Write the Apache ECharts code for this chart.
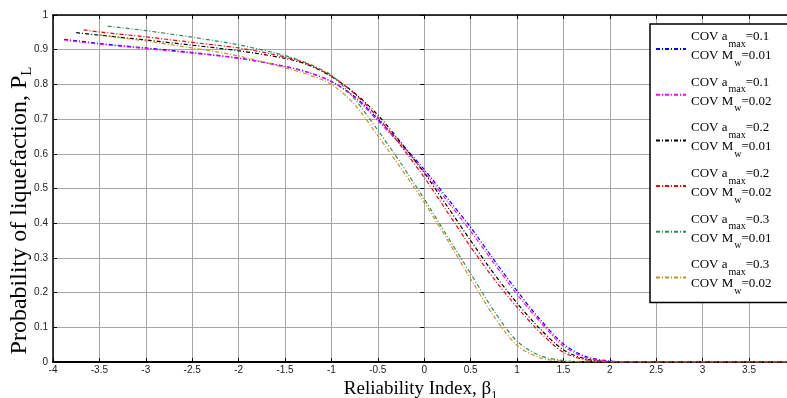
<!DOCTYPE html>
<html>
<head>
<meta charset="utf-8">
<script src="https://cdn.jsdelivr.net/npm/echarts@6/dist/echarts.min.js"></script>
<style>
html,body{margin:0;padding:0;background:#fff;}
#chart{width:787px;height:398px;}
</style>
</head>
<body>
<div id="chart"></div>
<script>
// ---- data ----
const xBlue = [-3.88, -3.5, -3, -2.5, -2, -1.5, -1.25, -1, -0.75, -0.5, -0.25, 0, 0.25, 0.5, 0.75, 1, 1.25, 1.5, 1.75, 2, 2.25, 3.92];
const yBlue = [0.930, 0.918, 0.905, 0.892, 0.876, 0.852, 0.835, 0.808, 0.765, 0.700, 0.630, 0.555, 0.472, 0.388, 0.295, 0.205, 0.122, 0.052, 0.015, 0.003, 0, 0];

const xMagenta = [-3.88, -3.5, -3, -2.5, -2, -1.5, -1.25, -1, -0.75, -0.5, -0.25, 0, 0.25, 0.5, 0.75, 1, 1.25, 1.5, 1.75, 2, 2.25, 3.92];
const yMagenta = [0.928, 0.916, 0.903, 0.890, 0.875, 0.851, 0.834, 0.808, 0.762, 0.695, 0.625, 0.548, 0.463, 0.377, 0.285, 0.195, 0.115, 0.046, 0.012, 0.002, 0, 0];

const xBlack = [-3.75, -3.5, -3, -2.5, -2, -1.5, -1.25, -1, -0.75, -0.5, -0.25, 0, 0.25, 0.5, 0.75, 1, 1.25, 1.5, 1.75, 2, 2.25, 3.92];
const yBlack = [0.949, 0.942, 0.928, 0.913, 0.897, 0.875, 0.856, 0.823, 0.775, 0.712, 0.632, 0.545, 0.448, 0.350, 0.255, 0.170, 0.095, 0.035, 0.008, 0.001, 0, 0];

const xRed = [-3.67, -3.5, -3, -2.5, -2, -1.5, -1.25, -1, -0.75, -0.5, -0.25, 0, 0.25, 0.5, 0.75, 1, 1.25, 1.5, 1.75, 2, 2.25, 3.92];
const yRed = [0.957, 0.951, 0.937, 0.921, 0.905, 0.879, 0.858, 0.824, 0.773, 0.705, 0.622, 0.532, 0.432, 0.332, 0.240, 0.158, 0.085, 0.028, 0.006, 0.001, 0, 0];

const xGreen = [-3.41, -3, -2.5, -2, -1.5, -1.25, -1, -0.75, -0.5, -0.25, 0, 0.25, 0.5, 0.75, 1, 1.25, 1.5, 1.75, 3.92];
const yGreen = [0.968, 0.955, 0.936, 0.914, 0.883, 0.860, 0.826, 0.758, 0.668, 0.572, 0.470, 0.362, 0.255, 0.148, 0.060, 0.018, 0.004, 0, 0];

const xOrange = [-3.5, -3, -2.5, -2, -1.5, -1.25, -1, -0.75, -0.5, -0.25, 0, 0.25, 0.5, 0.75, 1, 1.25, 1.5, 1.75, 3.92];
const yOrange = [0.942, 0.925, 0.905, 0.882, 0.848, 0.828, 0.800, 0.742, 0.652, 0.558, 0.460, 0.352, 0.240, 0.132, 0.048, 0.012, 0.002, 0, 0];

const legendA = ['0.1', '0.1', '0.2', '0.2', '0.3', '0.3'];
const legendM = ['0.01', '0.02', '0.01', '0.02', '0.01', '0.02'];
const seriesColors = ['#0000ff', '#ff00ff', '#000000', '#ff0000', '#2e8b57', '#c8921e'];
const xs = [xBlue, xMagenta, xBlack, xRed, xGreen, xOrange];
const ys = [yBlue, yMagenta, yBlack, yRed, yGreen, yOrange];

const xTickMin = -4, xTickMax = 3.92, xInterval = 0.5;
const yTickMin = 0, yTickMax = 1, yInterval = 0.1;

// ---- chart ----
const chart = echarts.init(document.getElementById('chart'), null, {renderer: 'canvas'});
const serif = '"Liberation Serif", "Times New Roman", serif';
const sans = '"Liberation Sans", Arial, sans-serif';

const names = legendA.map((a, i) => 'S' + i);
const series = names.map((n, i) => ({
  name: n,
  type: 'line',
  xAxisIndex: 0, yAxisIndex: 0,
  showSymbol: false, symbol: 'none',
  smooth: 0.3,
  data: xs[i].map((x, k) => [x, ys[i][k]]),
  lineStyle: {color: seriesColors[i], width: 1.2, type: [4, 2, 1, 2]},
  itemStyle: {color: seriesColors[i]},
  z: 3,
}));

const option = {
  animation: false,
  backgroundColor: '#fff',
  grid: {left: 53, top: 15, right: -1, bottom: 36, containLabel: false, outerBoundsMode: 'none'},
  xAxis: [{
    type: 'value', min: xTickMin, max: xTickMax, interval: xInterval,
    position: 'bottom',
    axisLine: {onZero: false, lineStyle: {color: '#000', width: 2}},
    axisTick: {inside: true, length: 4, lineStyle: {color: '#000'}},
    axisLabel: {fontFamily: sans, fontSize: 10, color: '#222', margin: 3, showMaxLabel: false,
      formatter: v => String(v)},
    splitLine: {show: true, lineStyle: {color: '#a6a6a6', width: 1}},
    name: '{t|Reliability Index, \u03b2}{s|1}',
    nameLocation: 'middle', nameGap: 16,
    nameTextStyle: {
      color: '#000',
      rich: {
        t: {fontFamily: serif, fontSize: 19, lineHeight: 19, verticalAlign: 'top', color: '#000'},
        s: {fontFamily: serif, fontSize: 12, lineHeight: 12, padding: [10, 0, 0, 0], verticalAlign: 'top', color: '#000'}
      }
    }
  }, {
    type: 'value', min: xTickMin, max: xTickMax, interval: xInterval,
    position: 'top',
    axisLine: {onZero: false, lineStyle: {color: '#000', width: 1.5}},
    axisTick: {inside: true, length: 4, lineStyle: {color: '#000'}},
    axisLabel: {show: false},
    splitLine: {show: false}
  }],
  yAxis: [{
    type: 'value', min: yTickMin, max: yTickMax, interval: yInterval,
    position: 'left',
    axisLine: {show: true, onZero: false, lineStyle: {color: '#000', width: 1.5}},
    axisTick: {show: true, inside: true, length: 4, lineStyle: {color: '#000'}},
    axisLabel: {fontFamily: sans, fontSize: 10, color: '#222', margin: 5,
      formatter: v => String(Math.round(v * 10) / 10)},
    splitLine: {show: true, lineStyle: {color: '#a6a6a6', width: 1}},
    name: '{t|Probability of liquefaction, P}{s|L}',
    nameLocation: 'middle', nameGap: 21, nameMoveOverlap: false,
    nameTextStyle: {
      color: '#000',
      padding: [0, 44, 0, 0],
      rich: {
        t: {fontFamily: serif, fontSize: 24, lineHeight: 24, verticalAlign: 'top', color: '#000'},
        s: {fontFamily: serif, fontSize: 15, lineHeight: 15, padding: [12, 0, 0, 0], verticalAlign: 'top', color: '#000'}
      }
    }
  }, {
    type: 'value', min: yTickMin, max: yTickMax, interval: yInterval,
    position: 'right',
    axisLine: {show: false},
    axisTick: {show: true, inside: true, length: 4, lineStyle: {color: '#000'}},
    axisLabel: {show: false},
    splitLine: {show: false}
  }],
  legend: {
    show: true,
    orient: 'vertical',
    left: 650, top: 24,
    padding: [6, 22, 6, 5],
    itemGap: 7.7,
    itemWidth: 30, itemHeight: 10,
    backgroundColor: '#fff',
    borderColor: '#000', borderWidth: 1.5, borderRadius: 0,
    data: names,
    selectedMode: false,
    itemStyle: {opacity: 0},
    formatter: function (n) {
      const i = names.indexOf(n);
      return '{t|COV a}{s|max}{t|=' + legendA[i] + '}\n{t|COV M}{s|w}{t|=' + legendM[i] + '}';
    },
    textStyle: {
      color: '#000',
      rich: {
        t: {fontFamily: serif, fontSize: 13, lineHeight: 19, verticalAlign: 'top', color: '#000'},
        s: {fontFamily: serif, fontSize: 10, lineHeight: 19, padding: [9, 0, 0, 1], verticalAlign: 'top', color: '#000'}
      }
    }
  },
  series: series
};
chart.setOption(option);
</script>
</body>
</html>
